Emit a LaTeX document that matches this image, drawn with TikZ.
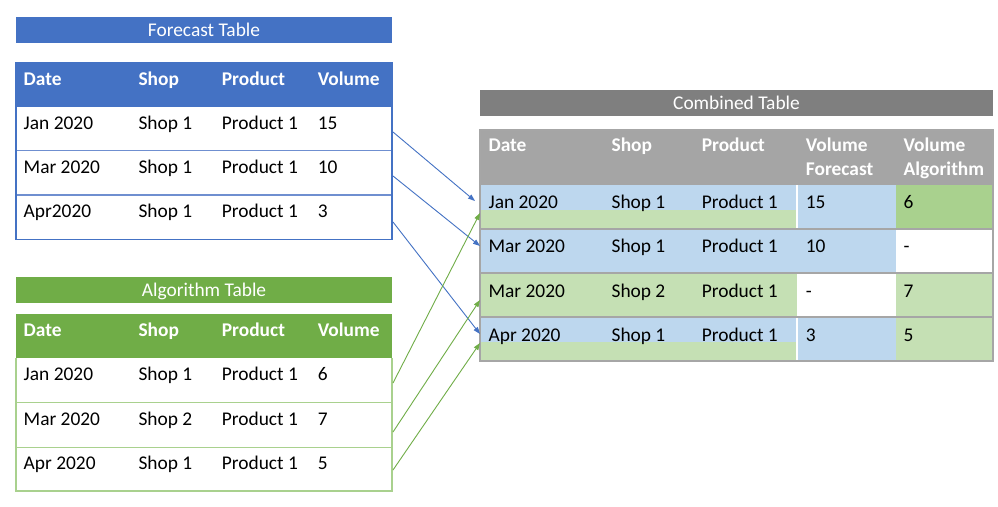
\documentclass[tikz,border=0pt]{standalone}
\usepackage{fontspec}
\setmainfont{Carlito}
\usetikzlibrary{arrows.meta}
\definecolor{fblue}{HTML}{4472C4}
\definecolor{fline}{HTML}{6F8FD0}
\definecolor{agreen}{HTML}{70AD47}
\definecolor{aline}{HTML}{A9D18E}
\definecolor{ctitle}{HTML}{7F7F7F}
\definecolor{chead}{HTML}{A5A5A5}
\definecolor{cline}{HTML}{A6A6A6}
\definecolor{lblue}{HTML}{BDD7EE}
\definecolor{lgreen}{HTML}{C5E0B4}
\definecolor{dgreen}{HTML}{A9D18E}
\begin{document}
\begin{tikzpicture}[x=1pt,y=-1pt,
  txt/.style={anchor=base west,inner sep=0pt,font=\fontsize{19.4}{23}\selectfont,text=black},
  hd/.style={anchor=base west,inner sep=0pt,font=\fontsize{19.4}{23}\selectfont\bfseries,text=white},
  ttl/.style={anchor=base,inner sep=0pt,font=\fontsize{19.4}{23}\selectfont,text=white},
  farrow/.style={draw=fblue,line width=0.9pt,-{Triangle[length=7pt,width=5pt]}},
  aarrow/.style={draw=agreen,line width=0.9pt,-{Triangle[length=7pt,width=5pt]}}]
\useasboundingbox (0,0) rectangle (998,506);
\fill[white] (0,0) rectangle (998,506);

% ---------- Forecast table ----------
\fill[fblue] (16,17.3) rectangle (392,42.7);
\node[ttl] (ftitle) at (204,36) {Forecast Table};
\fill[fblue] (16,62.3) rectangle (392,106.7);
\draw[fline,line width=1.3pt] (16,150.7) -- (392,150.7) (16,195) -- (392,195);
\draw[fblue,line width=1.3pt] (16,62.3) rectangle (392,239.3);
\node[hd] (fhd) at (23.5,85) {Date};
\node[hd] (fhs) at (138.3,85) {Shop};
\node[hd] (fhp) at (221.7,85) {Product};
\node[hd] (fhv) at (317.7,85) {Volume};
\foreach \d/\s/\v/\y/\i in {Jan 2020/Shop 1/15/129/1, Mar 2020/Shop 1/10/173.3/2, Apr2020/Shop 1/3/217.3/3}{
  \node[txt] (f\i d) at (23.5,\y) {\d};
  \node[txt] (f\i s) at (138.3,\y) {\s};
  \node[txt] (f\i p) at (221.7,\y) {Product 1};
  \node[txt] (f\i v) at (317.7,\y) {\v};
}

% ---------- Algorithm table ----------
\fill[agreen] (16,277.3) rectangle (392,303.3);
\node[ttl] (atitle) at (204,296) {Algorithm Table};
\fill[agreen] (16,314.3) rectangle (392,358.3);
\draw[aline,line width=1.3pt] (16,402.7) -- (392,402.7) (16,447.3) -- (392,447.3);
\draw[aline,line width=1.3pt] (16,358.3) -- (16,491) -- (392,491) -- (392,358.3);
\node[hd] (ahd) at (23.5,336) {Date};
\node[hd] (ahs) at (138.3,336) {Shop};
\node[hd] (ahp) at (221.7,336) {Product};
\node[hd] (ahv) at (317.7,336) {Volume};
\foreach \d/\s/\v/\y/\i in {Jan 2020/Shop 1/6/380.7/1, Mar 2020/Shop 2/7/425/2, Apr 2020/Shop 1/5/469/3}{
  \node[txt] (a\i d) at (23.5,\y) {\d};
  \node[txt] (a\i s) at (138.3,\y) {\s};
  \node[txt] (a\i p) at (221.7,\y) {Product 1};
  \node[txt] (a\i v) at (317.7,\y) {\v};
}

% ---------- Combined table ----------
\fill[ctitle] (480,90) rectangle (993,116);
\node[ttl] (ctitle) at (736.5,109.5) {Combined Table};
\fill[chead] (480,130) rectangle (993,185);
% row 1
\fill[lblue] (480,185) rectangle (797,209.5);
\fill[lgreen] (480,209.5) rectangle (797,229);
\fill[lblue] (797,185) rectangle (896,229);
\fill[dgreen] (896,185) rectangle (993,229);
% row 2
\fill[lblue] (480,229) rectangle (896,273);
% row 3
\fill[lgreen] (480,273) rectangle (797,317);
\fill[lgreen] (896,273) rectangle (993,317);
% row 4
\fill[lblue] (480,317) rectangle (797,342);
\fill[lgreen] (480,342) rectangle (797,361);
\fill[lblue] (797,317) rectangle (896,361);
\fill[lgreen] (896,317) rectangle (993,361);
\draw[white,line width=1.3pt] (797,185) -- (797,229) (797,317) -- (797,361);
\draw[cline,line width=1.6pt] (480,229) -- (993,229) (480,273) -- (993,273) (480,317) -- (993,317);
\draw[cline,line width=1.6pt] (480,130) rectangle (993,361);
\node[hd] (chd) at (488.4,151.6) {Date};
\node[hd] (chs) at (611.4,151.6) {Shop};
\node[hd] (chp) at (701.6,151.6) {Product};
\node[hd] (chf) at (805.7,151.6) {Volume};
\node[hd] (chf2) at (805.7,175.2) {Forecast};
\node[hd] (cha) at (903.4,151.6) {Volume};
\node[hd] (cha2) at (903.4,175.2) {Algorithm};
\foreach \d/\s/\f/\a/\y/\i in {Jan 2020/Shop 1/15/6/208.2/1, Mar 2020/Shop 1/10/-/252.7/2, Mar 2020/Shop 2/-/7/297/3, Apr 2020/Shop 1/3/5/341.9/4}{
  \node[txt] (c\i d) at (488.4,\y) {\d};
  \node[txt] (c\i s) at (611.4,\y) {\s};
  \node[txt] (c\i p) at (701.6,\y) {Product 1};
  \node[txt] (c\i f) at (805.7,\y) {\f};
  \node[txt] (c\i a) at (903.4,\y) {\a};
}

% ---------- connectors ----------
\coordinate (fs1) at (393,132);
\coordinate (fs2) at (393,176);
\coordinate (fs3) at (393,222);
\coordinate (ft1) at (475,201);
\coordinate (ft2) at (480,246);
\coordinate (ft3) at (480,334);
\coordinate (as1) at (393,383);
\coordinate (as2) at (393,432);
\coordinate (as3) at (393,470);
\coordinate (at1) at (480,213);
\coordinate (at2) at (480,300);
\coordinate (at3) at (480,343);
\draw[farrow] (fs1) -- (ft1);
\draw[farrow] (fs2) -- (ft2);
\draw[farrow] (fs3) -- (ft3);
\draw[aarrow] (as1) -- (at1);
\draw[aarrow] (as2) -- (at2);
\draw[aarrow] (as3) -- (at3);
\end{tikzpicture}
\end{document}
